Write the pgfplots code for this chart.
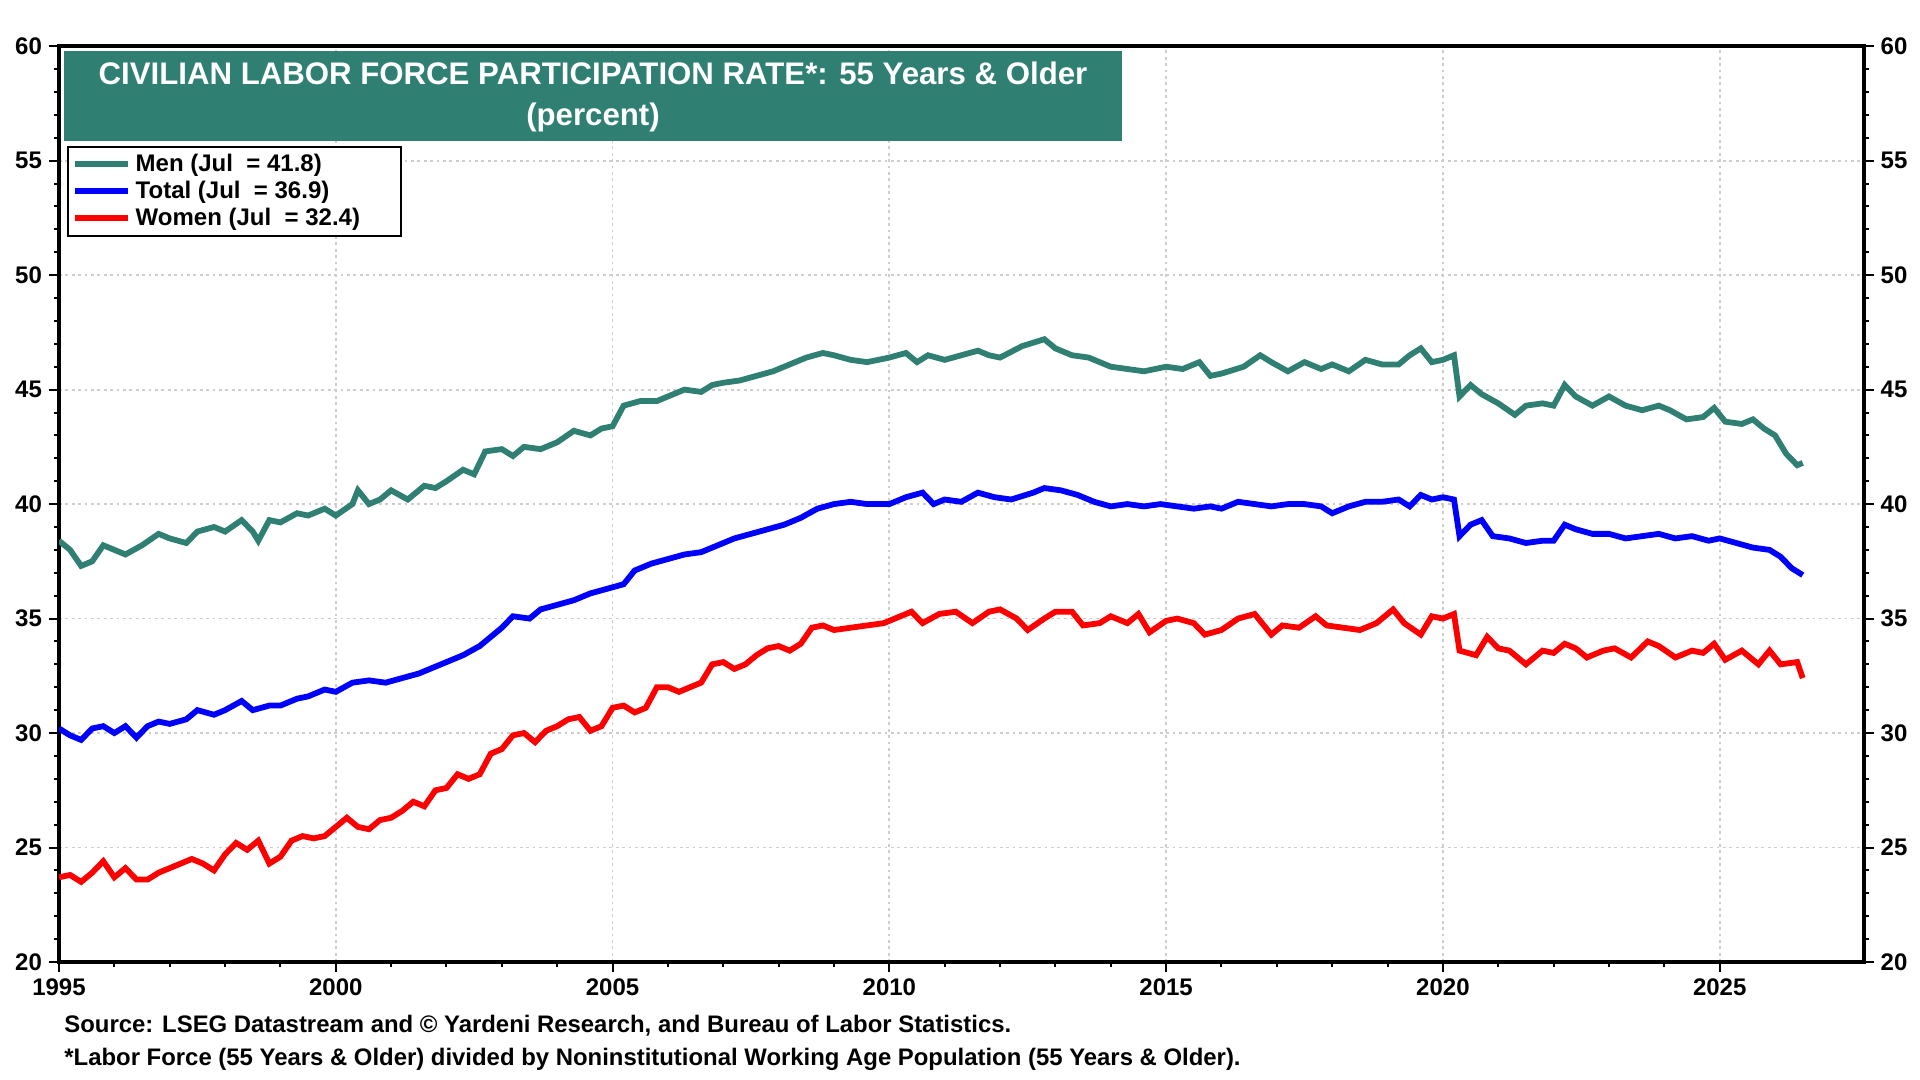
\documentclass[border=0pt]{standalone}
\usepackage{pgfplots}
\pgfplotsset{compat=1.18}
\usepackage{fontspec}
\setmainfont{Liberation Sans}
\definecolor{menc}{RGB}{47,127,115}
\definecolor{gridc}{RGB}{205,205,205}

\pgfplotstableread{
x y
1995.0 38.4
1995.2 38.0
1995.4 37.3
1995.6 37.5
1995.8 38.2
1996.0 38.0
1996.2 37.8
1996.5 38.2
1996.8 38.7
1997.0 38.5
1997.3 38.3
1997.5 38.8
1997.8 39.0
1998.0 38.8
1998.3 39.3
1998.5 38.8
1998.6 38.4
1998.8 39.3
1999.0 39.2
1999.3 39.6
1999.5 39.5
1999.8 39.8
2000.0 39.5
2000.3 40.0
2000.4 40.6
2000.6 40.0
2000.8 40.2
2001.0 40.6
2001.3 40.2
2001.6 40.8
2001.8 40.7
2002.0 41.0
2002.3 41.5
2002.5 41.3
2002.7 42.3
2003.0 42.4
2003.2 42.1
2003.4 42.5
2003.7 42.4
2004.0 42.7
2004.3 43.2
2004.6 43.0
2004.8 43.3
2005.0 43.4
2005.2 44.3
2005.5 44.5
2005.8 44.5
2006.0 44.7
2006.3 45.0
2006.6 44.9
2006.8 45.2
2007.0 45.3
2007.3 45.4
2007.6 45.6
2007.9 45.8
2008.2 46.1
2008.5 46.4
2008.8 46.6
2009.0 46.5
2009.3 46.3
2009.6 46.2
2010.0 46.4
2010.3 46.6
2010.5 46.2
2010.7 46.5
2011.0 46.3
2011.3 46.5
2011.6 46.7
2011.8 46.5
2012.0 46.4
2012.4 46.9
2012.8 47.2
2013.0 46.8
2013.3 46.5
2013.6 46.4
2014.0 46.0
2014.3 45.9
2014.6 45.8
2015.0 46.0
2015.3 45.9
2015.6 46.2
2015.8 45.6
2016.0 45.7
2016.4 46.0
2016.7 46.5
2016.9 46.2
2017.2 45.8
2017.5 46.2
2017.8 45.9
2018.0 46.1
2018.3 45.8
2018.6 46.3
2018.9 46.1
2019.2 46.1
2019.4 46.5
2019.6 46.8
2019.8 46.2
2020.0 46.3
2020.2 46.5
2020.3 44.7
2020.5 45.2
2020.7 44.8
2021.0 44.4
2021.3 43.9
2021.5 44.3
2021.8 44.4
2022.0 44.3
2022.2 45.2
2022.4 44.7
2022.7 44.3
2023.0 44.7
2023.3 44.3
2023.6 44.1
2023.9 44.3
2024.1 44.1
2024.4 43.7
2024.7 43.8
2024.9 44.2
2025.1 43.6
2025.4 43.5
2025.6 43.7
2025.8 43.3
2026.0 43.0
2026.2 42.2
2026.4 41.7
2026.5 41.8
}\men

\pgfplotstableread{
x y
1995.0 30.2
1995.2 29.9
1995.4 29.7
1995.6 30.2
1995.8 30.3
1996.0 30.0
1996.2 30.3
1996.4 29.8
1996.6 30.3
1996.8 30.5
1997.0 30.4
1997.3 30.6
1997.5 31.0
1997.8 30.8
1998.0 31.0
1998.3 31.4
1998.5 31.0
1998.8 31.2
1999.0 31.2
1999.3 31.5
1999.5 31.6
1999.8 31.9
2000.0 31.8
2000.3 32.2
2000.6 32.3
2000.9 32.2
2001.2 32.4
2001.5 32.6
2001.8 32.9
2002.0 33.1
2002.3 33.4
2002.6 33.8
2002.8 34.2
2003.0 34.6
2003.2 35.1
2003.5 35.0
2003.7 35.4
2004.0 35.6
2004.3 35.8
2004.6 36.1
2004.9 36.3
2005.2 36.5
2005.4 37.1
2005.7 37.4
2006.0 37.6
2006.3 37.8
2006.6 37.9
2006.9 38.2
2007.2 38.5
2007.5 38.7
2007.8 38.9
2008.1 39.1
2008.4 39.4
2008.7 39.8
2009.0 40.0
2009.3 40.1
2009.6 40.0
2010.0 40.0
2010.3 40.3
2010.6 40.5
2010.8 40.0
2011.0 40.2
2011.3 40.1
2011.6 40.5
2011.9 40.3
2012.2 40.2
2012.6 40.5
2012.8 40.7
2013.1 40.6
2013.4 40.4
2013.7 40.1
2014.0 39.9
2014.3 40.0
2014.6 39.9
2014.9 40.0
2015.2 39.9
2015.5 39.8
2015.8 39.9
2016.0 39.8
2016.3 40.1
2016.6 40.0
2016.9 39.9
2017.2 40.0
2017.5 40.0
2017.8 39.9
2018.0 39.6
2018.3 39.9
2018.6 40.1
2018.9 40.1
2019.2 40.2
2019.4 39.9
2019.6 40.4
2019.8 40.2
2020.0 40.3
2020.2 40.2
2020.3 38.6
2020.5 39.1
2020.7 39.3
2020.9 38.6
2021.2 38.5
2021.5 38.3
2021.8 38.4
2022.0 38.4
2022.2 39.1
2022.4 38.9
2022.7 38.7
2023.0 38.7
2023.3 38.5
2023.6 38.6
2023.9 38.7
2024.2 38.5
2024.5 38.6
2024.8 38.4
2025.0 38.5
2025.3 38.3
2025.6 38.1
2025.9 38.0
2026.1 37.7
2026.3 37.2
2026.5 36.9
}\total

\pgfplotstableread{
x y
1995.0 23.7
1995.2 23.8
1995.4 23.5
1995.6 23.9
1995.8 24.4
1996.0 23.7
1996.2 24.1
1996.4 23.6
1996.6 23.6
1996.8 23.9
1997.0 24.1
1997.2 24.3
1997.4 24.5
1997.6 24.3
1997.8 24.0
1998.0 24.7
1998.2 25.2
1998.4 24.9
1998.6 25.3
1998.8 24.3
1999.0 24.6
1999.2 25.3
1999.4 25.5
1999.6 25.4
1999.8 25.5
2000.0 25.9
2000.2 26.3
2000.4 25.9
2000.6 25.8
2000.8 26.2
2001.0 26.3
2001.2 26.6
2001.4 27.0
2001.6 26.8
2001.8 27.5
2002.0 27.6
2002.2 28.2
2002.4 28.0
2002.6 28.2
2002.8 29.1
2003.0 29.3
2003.2 29.9
2003.4 30.0
2003.6 29.6
2003.8 30.1
2004.0 30.3
2004.2 30.6
2004.4 30.7
2004.6 30.1
2004.8 30.3
2005.0 31.1
2005.2 31.2
2005.4 30.9
2005.6 31.1
2005.8 32.0
2006.0 32.0
2006.2 31.8
2006.4 32.0
2006.6 32.2
2006.8 33.0
2007.0 33.1
2007.2 32.8
2007.4 33.0
2007.6 33.4
2007.8 33.7
2008.0 33.8
2008.2 33.6
2008.4 33.9
2008.6 34.6
2008.8 34.7
2009.0 34.5
2009.3 34.6
2009.6 34.7
2009.9 34.8
2010.2 35.1
2010.4 35.3
2010.6 34.8
2010.9 35.2
2011.2 35.3
2011.5 34.8
2011.8 35.3
2012.0 35.4
2012.3 35.0
2012.5 34.5
2012.8 35.0
2013.0 35.3
2013.3 35.3
2013.5 34.7
2013.8 34.8
2014.0 35.1
2014.3 34.8
2014.5 35.2
2014.7 34.4
2015.0 34.9
2015.2 35.0
2015.5 34.8
2015.7 34.3
2016.0 34.5
2016.3 35.0
2016.6 35.2
2016.9 34.3
2017.1 34.7
2017.4 34.6
2017.7 35.1
2017.9 34.7
2018.2 34.6
2018.5 34.5
2018.8 34.8
2019.1 35.4
2019.3 34.8
2019.6 34.3
2019.8 35.1
2020.0 35.0
2020.2 35.2
2020.3 33.6
2020.6 33.4
2020.8 34.2
2021.0 33.7
2021.2 33.6
2021.5 33.0
2021.8 33.6
2022.0 33.5
2022.2 33.9
2022.4 33.7
2022.6 33.3
2022.9 33.6
2023.1 33.7
2023.4 33.3
2023.7 34.0
2023.9 33.8
2024.2 33.3
2024.5 33.6
2024.7 33.5
2024.9 33.9
2025.1 33.2
2025.4 33.6
2025.7 33.0
2025.9 33.6
2026.1 33.0
2026.4 33.1
2026.5 32.4
}\women

\begin{document}
\begin{tikzpicture}[x=1pt,y=1pt]
\pgfplotsset{
  common/.style={
    at={(29.5pt,59pt)}, anchor=south west,
    scale only axis, width=902.3pt, height=457.9pt,
    xmin=1995, xmax=2027.6, ymin=20, ymax=60,
    ytick={20,25,...,60}, minor y tick num=4,
    tick align=outside,
    major tick length=5pt, minor tick length=2.5pt,
    every tick/.style={black, line width=1pt},
    ticklabel style={font=\bfseries\fontsize{12}{14}\selectfont},
    /pgf/number format/assume math mode=true,
  }
}
\begin{axis}[common,
  xtick={1995,2000,...,2025}, minor x tick num=4,
  xtick pos=bottom, ytick pos=both,
  x tick label style={/pgf/number format/.cd, 1000 sep={}},
  axis line style={line width=2pt, black},
  grid=major,
  major grid style={gridc, line width=0.9pt, dash pattern=on 1.4pt off 1.8pt},
  legend style={at={(0.0044,0.8915)}, anchor=north west, draw=black, line width=1pt,
    font=\bfseries\fontsize{12}{13}\selectfont, inner xsep=2pt, inner ysep=2.6pt,
    row sep=1.4pt, nodes={inner ysep=1pt, inner xsep=2.5pt}},
  legend cell align=left,
  legend image code/.code={\draw[#1] (0pt,0pt) -- (26.5pt,0pt);},
]
\addplot[menc, line width=2.9pt] table {\men};
\addlegendentry{Men (Jul~~= 41.8)}
\addplot[blue, line width=2.9pt] table {\total};
\addlegendentry{Total (Jul~~= 36.9)}
\addplot[red, line width=2.9pt] table {\women};
\addlegendentry{Women (Jul~~= 32.4)\kern16pt}
\end{axis}
\begin{axis}[common,
  hide x axis, axis y line*=right,
  axis line style={line width=2pt, black},
]
\end{axis}
\fill[menc] (32pt,469.5pt) rectangle (561pt,514.5pt);
\node[white, font=\bfseries\fontsize{15.6}{17}\selectfont] at (296.5pt,503.25pt) {CIVILIAN LABOR FORCE PARTICIPATION RATE*: 55 Years \& Older};
\node[white, font=\bfseries\fontsize{15.6}{17}\selectfont] at (296.5pt,481.25pt) {(percent)};
\node[anchor=west, inner sep=0pt, font=\bfseries\fontsize{11.95}{13}\selectfont] at (32pt,27pt) {Source: LSEG Datastream and © Yardeni Research, and Bureau of Labor Statistics.};
\node[anchor=west, inner sep=0pt, font=\bfseries\fontsize{11.95}{13}\selectfont] at (32pt,10.5pt) {*Labor Force (55 Years \& Older) divided by Noninstitutional Working Age Population (55 Years \& Older).};
\pgfresetboundingbox
\path[use as bounding box] (0,0) rectangle (960pt,540pt);
\end{tikzpicture}
\end{document}
